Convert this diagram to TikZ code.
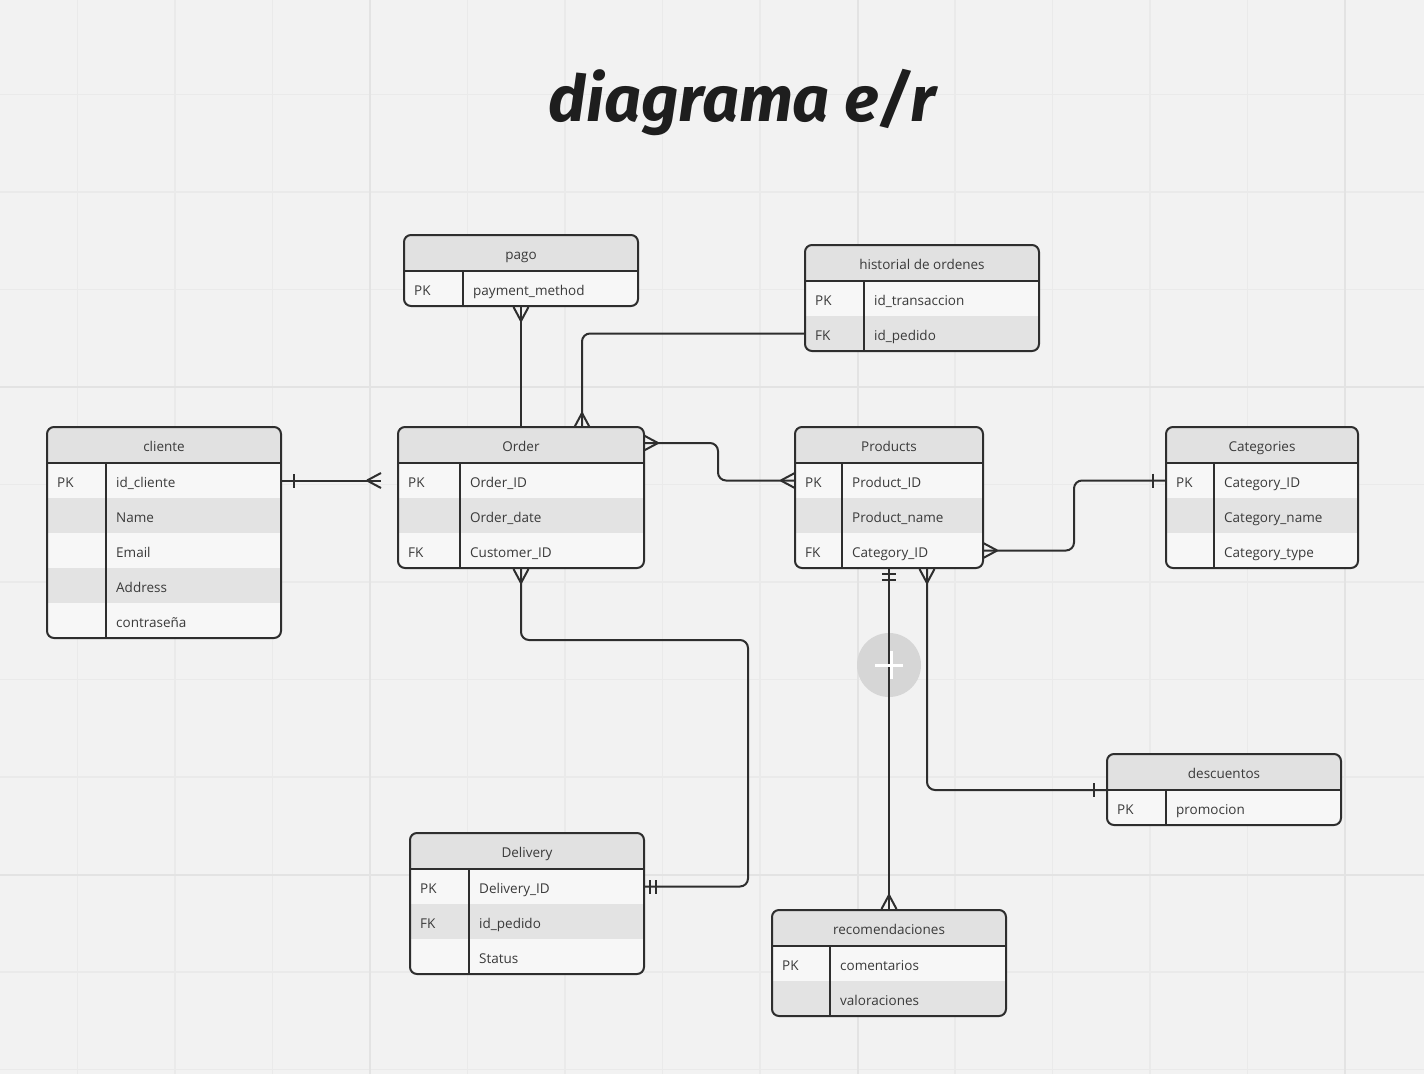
\documentclass[tikz,border=0pt]{standalone}
\usepackage{graphicx}
\usepackage{fontspec}
\newfontfamily\uifont{Open Sans}
\newfontfamily\titlefont{Fira Sans}
\definecolor{bg}{HTML}{F2F2F2}
\definecolor{gridminor}{HTML}{EAEAEA}
\definecolor{gridmajor}{HTML}{E3E3E3}
\definecolor{ink}{HTML}{2E2E2E}
\definecolor{txt}{HTML}{3A3A3A}
\definecolor{titleink}{HTML}{1E1E1E}
\definecolor{headfill}{HTML}{E1E1E1}
\definecolor{rowlight}{HTML}{F7F7F7}
\definecolor{rowdark}{HTML}{E3E3E3}
\definecolor{plusfill}{HTML}{D6D6D6}
\tikzset{
  conn/.style={draw=ink, line width=2pt},
  tabline/.style={draw=ink, line width=2pt},
  tabframe/.style={draw=ink, line width=2pt, rounded corners=7pt, rectangle, inner sep=0pt},
  celltxt/.style={inner sep=0pt, text=txt, font=\uifont\fontsize{13.5pt}{16pt}\selectfont},
  anchorbox/.style={inner sep=0pt, rectangle},
}
% #1 name, #2 x, #3 y, #4 width, #5 divider offset, #6 rows, #7 title, #8 rows key/field/shade
\newcommand\ertable[8]{%
  \pgfmathsetmacro\tabH{36+35*#6}%
  \begin{scope}
    \clip[rounded corners=7pt] (#2,#3) rectangle ++(#4,\tabH);
    \fill[headfill] (#2,#3) rectangle ++(#4,36);
    \foreach \k/\f/\s [count=\i] in {#8}{%
      \fill[\s] (#2,#3+1+35*\i) rectangle ++(#4,35);
    }
  \end{scope}
  \node[tabframe, minimum width=#4pt, minimum height=\tabH pt] (#1) at (#2+#4/2, #3+\tabH/2) {};
  \draw[tabline] (#2,#3+36) -- ++(#4,0);
  \draw[tabline] (#2+#5,#3+36) -- (#2+#5,#3+\tabH);
  \coordinate (#1-hbw) at (#2,#3+36);
  \node[celltxt, anchor=base] (#1-title) at (#2+#4/2, #3+24.5) {#7};
  \foreach \k/\f/\s [count=\i] in {#8}{%
    \node[anchorbox, minimum width=#4pt, minimum height=35pt] (#1-\i) at (#2+#4/2, #3+18.5+35*\i) {};
    \node[celltxt, anchor=base west] (#1-\i-k) at (#2+10, #3+25+35*\i) {\k};
    \node[celltxt, anchor=base west] (#1-\i-f) at (#2+#5+10, #3+25+35*\i) {\f};
  }
}
% crow's foot: #1 point on entity edge, #2 direction (page angle) towards entity
\newcommand\crow[2]{%
  \begin{scope}[shift={(#1)}, rotate=#2]
    \draw[conn] (-14,0) -- (0,7.5) (-14,0) -- (0,-7.5);
  \end{scope}}
% bar: #1 point, #2 direction towards entity, #3 distance from point
\newcommand\erbar[3]{%
  \begin{scope}[shift={(#1)}, rotate=#2]
    \draw[conn] (-#3,-7) -- (-#3,7);
  \end{scope}}
\begin{document}
\begin{tikzpicture}[x=1pt, y=-1pt]
\useasboundingbox (0,0) rectangle (1424,1074);
\fill[bg] (0,0) rectangle (1424,1074);
% grid
\foreach \i in {0,...,14} {\draw[gridminor, line width=1.5pt] (77.5+97.5*\i,0) -- ++(0,1074);}
\foreach \j in {0,...,10} {\draw[gridminor, line width=1.5pt] (0,94.5+97.5*\j) -- ++(1424,0);}
\foreach \i in {370,857.5,1345} {\draw[gridmajor, line width=2pt] (\i,0) -- ++(0,1074);}
\foreach \j in {387,874.5} {\draw[gridmajor, line width=2pt] (0,\j) -- ++(1424,0);}

% title
\node[anchor=base, text=titleink, inner sep=0pt] (title) at (742,121)
  {\scalebox{1.01}[1]{\titlefont\fontsize{64pt}{64pt}\selectfont\bfseries\itshape diagrama e/r}};

% tables
\ertable{pago}{404}{235}{234}{59}{1}{pago}{PK/payment\_method/rowlight}
\ertable{hist}{805}{245}{234}{59}{2}{historial de ordenes}{PK/id\_transaccion/rowlight, FK/id\_pedido/rowdark}
\ertable{cliente}{47}{427}{234}{59}{5}{cliente}{PK/id\_cliente/rowlight, /Name/rowdark, /Email/rowlight, /Address/rowdark, /contraseña/rowlight}
\ertable{order}{398}{427}{246}{62}{3}{Order}{PK/Order\_ID/rowlight, /Order\_date/rowdark, FK/Customer\_ID/rowlight}
\ertable{products}{795}{427}{188}{47}{3}{Products}{PK/Product\_ID/rowlight, /Product\_name/rowdark, FK/Category\_ID/rowlight}
\ertable{categories}{1166}{427}{192}{48}{3}{Categories}{PK/Category\_ID/rowlight, /Category\_name/rowdark, /Category\_type/rowlight}
\ertable{descuentos}{1107}{754}{234}{59}{1}{descuentos}{PK/promocion/rowlight}
\ertable{delivery}{410}{833}{234}{59}{3}{Delivery}{PK/Delivery\_ID/rowlight, FK/id\_pedido/rowdark, /Status/rowlight}
\ertable{reco}{772}{910}{234}{58}{2}{recomendaciones}{PK/comentarios/rowlight, /valoraciones/rowdark}

% helper coordinates
\coordinate (cliEnd) at (381,480.5);
\coordinate (ordTop2) at (582,427);
\coordinate (ordRight) at (644,443);
\coordinate (prodB2) at (927,569);

% cliente -- order
\draw[conn] (cliente-1.east) -- (cliEnd);
\erbar{cliente-1.east}{180}{13}
\crow{cliEnd}{0}
% pago -- order
\draw[conn] (pago.south) -- (order.north);
\crow{pago.south}{90}
% historial -- order
\draw[conn, rounded corners=8pt] (hist-2.west) -| (ordTop2);
\crow{ordTop2}{-90}
% order -- products
\draw[conn, rounded corners=8pt] (ordRight) -- (718,443) |- (products-1.west);
\crow{ordRight}{180}
\crow{products-1.west}{0}
% products -- categories
\draw[conn, rounded corners=8pt] (products-3.east) -- (1074,550.5) |- (categories-1.west);
\crow{products-3.east}{180}
\erbar{categories-1.west}{0}{13}
% order -- delivery
\draw[conn, rounded corners=8pt] (order.south) -- (521,640) -- (748,640) |- (delivery-1.east);
\crow{order.south}{90}
\erbar{delivery-1.east}{180}{6}
\erbar{delivery-1.east}{180}{12}
% products -- recomendaciones (with plus button)
\node[circle, fill=plusfill, minimum size=64pt, inner sep=0pt] (plusbtn) at (889,665) {};
\draw[conn] (products.south) -- (reco.north);
\draw[white, line width=3pt] (875,665) -- (903,665) (891,651) -- (891,679);
\erbar{products.south}{90}{5}
\erbar{products.south}{90}{11}
\crow{reco.north}{-90}
% products -- descuentos
\draw[conn, rounded corners=8pt] (prodB2) |- (descuentos-hbw);
\crow{prodB2}{90}
\erbar{descuentos-hbw}{0}{13}
\end{tikzpicture}
\end{document}
